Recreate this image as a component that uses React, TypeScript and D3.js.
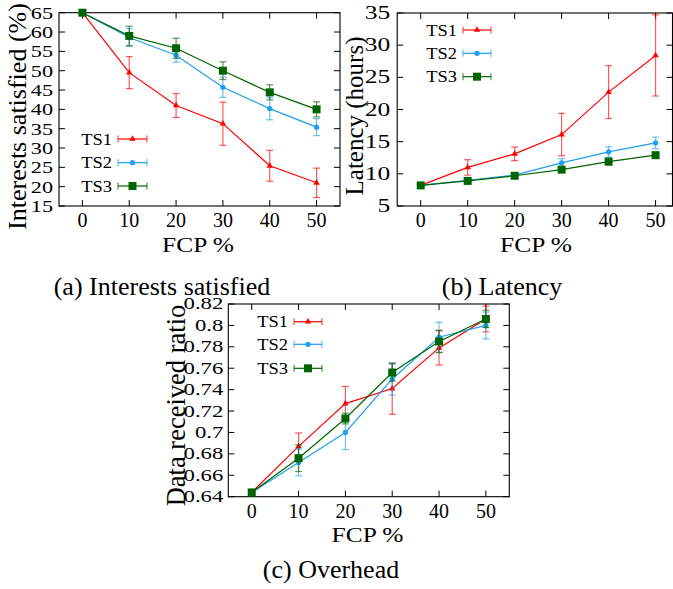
import React from "react";
import * as d3 from "d3";

// ---------- data ----------
const fcp = [0, 10, 20, 30, 40, 50];
const seriesNames = ["TS1", "TS2", "TS3"];

const interestsTS1 = [65, 49.5, 41.0, 36.3, 25.4, 21.0];
const interestsTS1Err = [0, 4.15, 3.1, 5.6, 4.0, 3.8];
const interestsTS2 = [65, 58.6, 54.0, 45.7, 40.2, 35.4];
const interestsTS2Err = [0, 2.3, 1.8, 2.6, 2.9, 2.2];
const interestsTS3 = [65, 59.0, 55.8, 50.0, 44.4, 40.0];
const interestsTS3Err = [0, 2.5, 2.6, 2.3, 1.95, 1.95];

const latencyTS1 = [8.2, 11.0, 13.1, 16.1, 22.7, 28.4];
const latencyTS1Err = [0.1, 1.2, 1.05, 3.3, 4.1, 6.3];
const latencyTS2 = [8.2, 9.0, 9.8, 11.7, 13.4, 14.8];
const latencyTS2Err = [0.1, 0.2, 0.2, 0.65, 0.8, 0.9];
const latencyTS3 = [8.2, 8.9, 9.7, 10.65, 11.9, 12.9];
const latencyTS3Err = [0.1, 0.2, 0.25, 0.3, 0.5, 0.4];

const overheadTS1 = [0.644, 0.687, 0.727, 0.741, 0.779, 0.806];
const overheadTS1Err = [0.001, 0.0125, 0.016, 0.024, 0.016, 0.012];
const overheadTS2 = [0.644, 0.672, 0.7, 0.75, 0.789, 0.8];
const overheadTS2Err = [0.001, 0.0125, 0.016, 0.015, 0.014, 0.0125];
const overheadTS3 = [0.644, 0.676, 0.713, 0.756, 0.785, 0.806];
const overheadTS3Err = [0.001, 0.0125, 0.005, 0.008, 0.0105, 0.008];

const xTickValues = [0, 10, 20, 30, 40, 50];
const interestsTicks = [15, 20, 25, 30, 35, 40, 45, 50, 55, 60, 65];
const latencyTicks = [5, 10, 15, 20, 25, 30, 35];
const overheadTicks = [0.64, 0.66, 0.68, 0.7, 0.72, 0.74, 0.76, 0.78, 0.8, 0.82];

// ---------- styles ----------
const FONT = '"Liberation Serif", "Times New Roman", serif';
const colors = ["#ff0000", "#1e9ff2", "#006400"];
const markerTypes = [d3.symbolTriangle, d3.symbolCircle, d3.symbolSquare];
const markerSizes = [18, 22, 64];

type PanelCfg = {
  frame: { l: number; r: number; t: number; b: number };
  xDomain: [number, number];
  yDomain: [number, number];
  yTicks: number[];
  ySize: number;
  yScaleX: number;
  yGap: number;
  xTickBase: number;
  xTitle: { x: number; y: number };
  yTitle: { text: string; x: number; y: number; size: number };
  legend: { right: number; x1: number; x2: number; rows: number[] };
  caption: { text: string; x: number; y: number };
  values: number[][];
  errs: number[][];
};

const panels: PanelCfg[] = [
  {
    frame: { l: 59, r: 340, t: 12.7, b: 206 },
    xDomain: [-5, 55],
    yDomain: [15, 65],
    yTicks: interestsTicks,
    ySize: 17.5,
    yScaleX: 1.27,
    yGap: 6,
    xTickBase: 227,
    xTitle: { x: 198, y: 252 },
    yTitle: { text: "Interests satisfied (%)", x: 26.3, y: 116.5, size: 26 },
    legend: { right: 112, x1: 118, x2: 147, rows: [139, 162.7, 186] },
    caption: { text: "(a) Interests satisfied", x: 162, y: 295 },
    values: [interestsTS1, interestsTS2, interestsTS3],
    errs: [interestsTS1Err, interestsTS2Err, interestsTS3Err],
  },
  {
    frame: { l: 397.2, r: 672.5, t: 13, b: 206 },
    xDomain: [-5, 53.6],
    yDomain: [5, 35],
    yTicks: latencyTicks,
    ySize: 18,
    yScaleX: 1.42,
    yGap: 7,
    xTickBase: 227,
    xTitle: { x: 536, y: 252 },
    yTitle: { text: "Latency (hours)", x: 362.5, y: 116, size: 25 },
    legend: { right: 457, x1: 463, x2: 491, rows: [30, 53.3, 76.7] },
    caption: { text: "(b) Latency", x: 502, y: 295 },
    values: [latencyTS1, latencyTS2, latencyTS3],
    errs: [latencyTS1Err, latencyTS2Err, latencyTS3Err],
  },
  {
    frame: { l: 228.3, r: 509.3, t: 304, b: 496.7 },
    xDomain: [-5, 55],
    yDomain: [0.64, 0.82],
    yTicks: overheadTicks,
    ySize: 16,
    yScaleX: 1.42,
    yGap: 5,
    xTickBase: 518,
    xTitle: { x: 367.5, y: 542 },
    yTitle: { text: "Data received ratio", x: 185, y: 405.5, size: 26.5 },
    legend: { right: 288, x1: 294, x2: 322, rows: [321.7, 344.3, 368.3] },
    caption: { text: "(c) Overhead", x: 331, y: 578 },
    values: [overheadTS1, overheadTS2, overheadTS3],
    errs: [overheadTS1Err, overheadTS2Err, overheadTS3Err],
  },
];

const fmt = (d: number) => String(+d.toFixed(2));

function Marker({ i, x, y }: { i: number; x: number; y: number }) {
  const path = d3.symbol(markerTypes[i], markerSizes[i])() as string;
  return <path d={path} transform={`translate(${x},${y})`} fill={colors[i]} />;
}

function Panel({ p }: { p: PanelCfg }) {
  const { l, r, t, b } = p.frame;
  const x = d3.scaleLinear().domain(p.xDomain).range([l, r]);
  const y = d3.scaleLinear().domain(p.yDomain).range([b, t]);
  const tick = 6;
  const cap = 3.5;
  const line = d3
    .line<number>()
    .x((_, k) => x(fcp[k]))
    .y((d) => y(d));
  return (
    <g>
      {/* ticks */}
      {p.yTicks.map((v) => (
        <g key={"y" + v}>
          <line x1={l} x2={l + tick} y1={y(v)} y2={y(v)} stroke="#000" />
          <line x1={r} x2={r - tick} y1={y(v)} y2={y(v)} stroke="#000" />
          <text
            transform={`translate(${l - p.yGap},${y(v)}) scale(${p.yScaleX},1)`}
            textAnchor="end"
            dy="0.34em"
            fontSize={p.ySize}
          >
            {fmt(v)}
          </text>
        </g>
      ))}
      {xTickValues.map((v) => (
        <g key={"x" + v}>
          <line x1={x(v)} x2={x(v)} y1={b} y2={b - tick} stroke="#000" />
          <line x1={x(v)} x2={x(v)} y1={t} y2={t + tick} stroke="#000" />
          <text x={x(v)} y={p.xTickBase} textAnchor="middle" fontSize={20}>
            {v}
          </text>
        </g>
      ))}
      <rect x={l} y={t} width={r - l} height={b - t} fill="none" stroke="#000" strokeWidth={1.1} />
      {/* titles */}
      <text
        transform={`translate(${p.xTitle.x},${p.xTitle.y}) scale(1.24,1)`}
        textAnchor="middle"
        fontSize={20.5}
      >
        FCP %
      </text>
      <text
        transform={`translate(${p.yTitle.x},${p.yTitle.y}) rotate(-90)`}
        textAnchor="middle"
        fontSize={p.yTitle.size}
      >
        {p.yTitle.text}
      </text>
      <text x={p.caption.x} y={p.caption.y} textAnchor="middle" fontSize={26}>
        {p.caption.text}
      </text>
      {/* series */}
      {p.values.map((vals, i) => (
        <g key={"s" + i}>
          {vals.map((v, k) => {
            const e = p.errs[i][k];
            const cx = x(fcp[k]);
            return (
              <g key={k} stroke={colors[i]} strokeOpacity={0.65} strokeWidth={1.2}>
                <line x1={cx} x2={cx} y1={y(v + e)} y2={y(v - e)} />
                <line x1={cx - cap} x2={cx + cap} y1={y(v + e)} y2={y(v + e)} />
                <line x1={cx - cap} x2={cx + cap} y1={y(v - e)} y2={y(v - e)} />
              </g>
            );
          })}
          <path d={line(vals) as string} fill="none" stroke={colors[i]} strokeWidth={1.2} />
          {vals.map((v, k) => (
            <Marker key={k} i={i} x={x(fcp[k])} y={y(v)} />
          ))}
        </g>
      ))}
      {/* legend */}
      {seriesNames.map((name, i) => {
        const ry = p.legend.rows[i];
        const { x1, x2 } = p.legend;
        return (
          <g key={"l" + i}>
            <text
              transform={`translate(${p.legend.right},${ry}) scale(1.12,1)`}
              textAnchor="end"
              dy="0.34em"
              fontSize={16.5}
            >
              {name}
            </text>
            <g stroke={colors[i]} strokeWidth={1.2}>
              <line x1={x1} x2={x2} y1={ry} y2={ry} />
              <line x1={x1} x2={x1} y1={ry - cap} y2={ry + cap} strokeOpacity={0.7} />
              <line x1={x2} x2={x2} y1={ry - cap} y2={ry + cap} strokeOpacity={0.7} />
            </g>
            <Marker i={i} x={(x1 + x2) / 2} y={ry} />
          </g>
        );
      })}
    </g>
  );
}

export default function App() {
  return (
    <svg
      width={673}
      height={589}
      style={{ position: "absolute", left: 0, top: 0, background: "#fff" }}
      fontFamily={FONT}
    >
      <rect width={673} height={589} fill="#fff" />
      {panels.map((p, i) => (
        <Panel key={i} p={p} />
      ))}
    </svg>
  );
}
